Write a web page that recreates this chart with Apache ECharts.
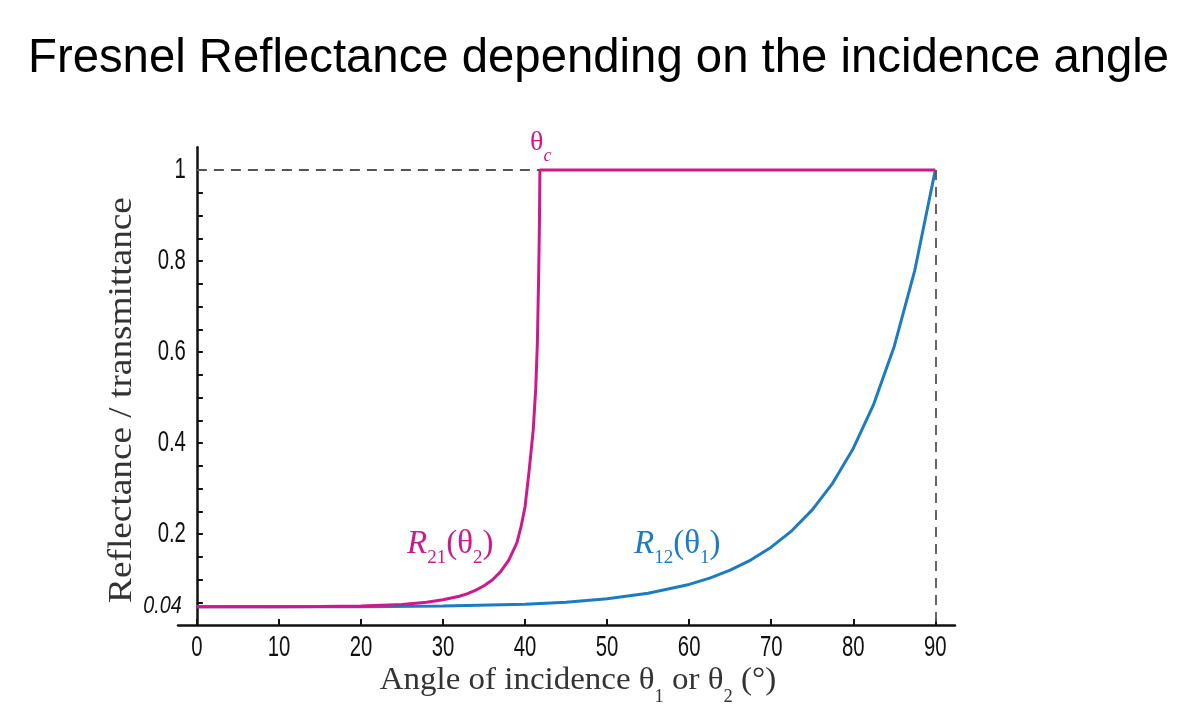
<!DOCTYPE html>
<html>
<head>
<meta charset="utf-8">
<script src="https://cdn.jsdelivr.net/npm/echarts@6/dist/echarts.min.js"></script>
<style>
  html, body { margin: 0; padding: 0; background: #fff; }
  #chart { width: 1185px; height: 704px; }
</style>
</head>
<body>
<div id="chart"></div>
<script>
// Fresnel reflectance for an air/glass interface (n = 1.5), unpolarised light
const titleText = 'Fresnel Reflectance depending on the incidence angle';

// R12: incidence from the less dense medium (θ1)
const angles12 = [0, 10, 20, 30, 40, 45, 50, 55, 60, 62.5, 65, 67.5, 70, 72.5, 75, 77.5, 80, 82.5, 85, 87.5, 90];
const r12 = [0.04, 0.04, 0.0403, 0.0415, 0.0457, 0.0502, 0.0577, 0.0697, 0.0892, 0.103, 0.1205, 0.1427, 0.171, 0.207, 0.2531, 0.312, 0.388, 0.4856, 0.6127, 0.7796, 1];

// R21: incidence from the denser medium (θ2), total reflection past θc
const angles21 = [0, 10, 15, 20, 25, 28, 30, 32, 33, 34, 35, 36, 37, 38, 39, 39.5, 40, 40.5, 41, 41.3, 41.5, 41.65, 41.75, 41.81, 90];
const r21 = [0.04, 0.0401, 0.0405, 0.0417, 0.0453, 0.05, 0.0553, 0.0633, 0.069, 0.0765, 0.0862, 0.099, 0.1168, 0.1422, 0.1807, 0.215, 0.26, 0.34, 0.43, 0.52, 0.62, 0.76, 0.88, 1, 1];

const criticalAngle = 41.81;

// axis ticks and labels
const xTicks = [0, 10, 20, 30, 40, 50, 60, 70, 80, 90];
const yLabels = [0.2, 0.4, 0.6, 0.8, 1];
const yBaseLabel = [0.04];
const yTicks = [0.05, 0.1, 0.15, 0.2, 0.25, 0.3, 0.35, 0.4, 0.45, 0.5, 0.55, 0.6, 0.65, 0.7, 0.75, 0.8, 0.85, 0.9, 0.95, 1];

const MAGENTA = '#CD1A8B';
const BLUE = '#1B7BC3';
const SERIF = '"Liberation Serif", "DejaVu Serif", serif';
const SANS = '"Liberation Sans", Arial, sans-serif';

const zip = (xs, ys) => xs.map((x, i) => [x, ys[i]]);

const chart = echarts.init(document.getElementById('chart'), null, { renderer: 'canvas' });

// rich styles for symbols with subscripts
function labelRich(color, size, sub, lh) {
  return {
    it: { fontFamily: SERIF, fontStyle: 'italic', fontSize: size, lineHeight: lh, fill: color },
    m: { fontFamily: SERIF, fontSize: size, lineHeight: lh, fill: color },
    s: { fontFamily: SERIF, fontSize: sub, lineHeight: sub, verticalAlign: 'bottom', fill: color },
    si: { fontFamily: SERIF, fontStyle: 'italic', fontSize: sub, lineHeight: sub, verticalAlign: 'bottom', fill: color }
  };
}

// condensed tick labels placed through the axis scales
function xLabelItem(params, api) {
  const v = api.value(0);
  const p = api.coord([v, 0]);
  return {
    type: 'text', x: p[0], y: p[1] + 22.5, scaleX: 0.7,
    style: { text: String(v), font: '29px ' + SANS, fill: '#111', align: 'center', verticalAlign: 'middle' }
  };
}
function yLabelItem(italic) {
  return function (params, api) {
    const v = api.value(1);
    const p = api.coord([0, v]);
    return {
      type: 'text', x: p[0] - 11 - (italic ? 4 : 0), y: p[1], scaleX: italic ? 0.86 : 0.7,
      style: {
        text: String(v),
        font: (italic ? 'italic 23px ' : '29px ') + SANS,
        fill: '#111', align: 'right', verticalAlign: 'middle'
      }
    };
  };
}

chart.setOption({
  animation: false,
  backgroundColor: '#fff',
  title: {
    text: titleText,
    left: 28,
    top: 35,
    padding: 0,
    textStyle: { fontFamily: SANS, fontSize: 47.3, fontWeight: 'normal', color: '#000' }
  },
  grid: { left: 178, right: 230, top: 147.25, bottom: 79, containLabel: false },
  xAxis: {
    type: 'value',
    min: -2.3,
    max: 92.4,
    splitLine: { show: false },
    axisLine: { onZero: false, lineStyle: { color: '#111', width: 2.5 } },
    axisTick: { inside: true, length: 6, customValues: xTicks, lineStyle: { color: '#111', width: 2 } },
    axisLabel: { show: false }
  },
  yAxis: {
    type: 'value',
    min: 0,
    max: 1.05,
    splitLine: { show: false },
    axisLine: { onZero: true, lineStyle: { color: '#111', width: 2.5 } },
    axisTick: { inside: true, length: 6, customValues: yTicks, lineStyle: { color: '#111', width: 2 } },
    axisLabel: { show: false }
  },
  series: [
    {
      name: 'R12',
      type: 'line',
      data: zip(angles12, r12),
      showSymbol: false,
      lineStyle: { color: BLUE, width: 3 },
      z: 3
    },
    {
      name: 'R21',
      type: 'line',
      data: zip(angles21, r21),
      showSymbol: false,
      lineStyle: { color: MAGENTA, width: 3 },
      z: 4,
      markLine: {
        silent: true,
        symbol: 'none',
        label: { show: false },
        lineStyle: { color: '#555', width: 1.8, type: [10, 7] },
        data: [
          [{ coord: [0, 1] }, { coord: [criticalAngle, 1] }],
          [{ coord: [90, 1] }, { coord: [90, 0] }]
        ]
      }
    },
    {
      name: 'xLabels', type: 'custom', clip: false, silent: true,
      data: xTicks.map(v => [v, 0]),
      renderItem: xLabelItem
    },
    {
      name: 'yLabels', type: 'custom', clip: false, silent: true,
      data: yLabels.map(v => [0, v]),
      renderItem: yLabelItem(false)
    },
    {
      name: 'yBase', type: 'custom', clip: false, silent: true,
      data: yBaseLabel.map(v => [0, v]),
      renderItem: yLabelItem(true)
    }
  ],
  graphic: [
    {
      type: 'text',
      x: 122, y: 400,
      rotation: Math.PI / 2,
      scaleX: 1.13,
      style: {
        text: 'Reflectance / transmittance',
        font: '33px ' + SERIF,
        fill: '#333',
        align: 'center',
        verticalAlign: 'middle'
      }
    },
    {
      type: 'text',
      x: 578, y: 656,
      scaleX: 1.03,
      style: {
        text: '{m|Angle of incidence θ}{s|1}{m| or θ}{s|2}{m| (°)}',
        rich: labelRich('#333', 32, 18, 50),
        align: 'center',
        verticalAlign: 'top'
      }
    },
    {
      type: 'text',
      x: 407, y: 520,
      style: {
        text: '{it|R}{s|21}{m|(θ}{s|2}{m|)}',
        rich: labelRich(MAGENTA, 33, 19, 48),
        align: 'left',
        verticalAlign: 'top'
      }
    },
    {
      type: 'text',
      x: 634, y: 520,
      style: {
        text: '{it|R}{s|12}{m|(θ}{s|1}{m|)}',
        rich: labelRich(BLUE, 33, 19, 48),
        align: 'left',
        verticalAlign: 'top'
      }
    },
    {
      type: 'text',
      x: 530, y: 120,
      style: {
        text: '{m|θ}{si|c}',
        rich: labelRich(MAGENTA, 28, 18, 45),
        align: 'left',
        verticalAlign: 'top'
      }
    }
  ]
});
</script>
</body>
</html>
